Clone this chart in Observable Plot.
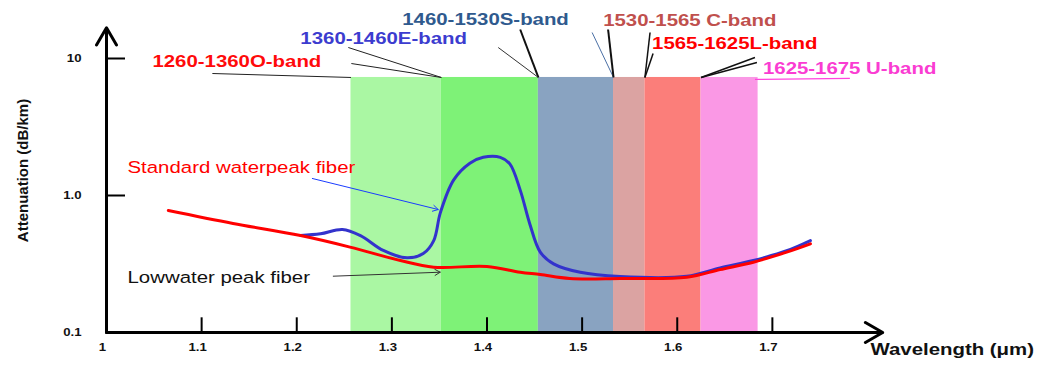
<!DOCTYPE html>
<html><head><meta charset="utf-8">
<script src="https://cdn.jsdelivr.net/npm/d3@7"></script>
<script src="https://cdn.jsdelivr.net/npm/@observablehq/plot@0.6"></script>
<style>body{margin:0;background:#fff}</style>
</head><body><div id="chart"></div>
<script>
// Low water peak fiber (red)
const lowWl  = [1.065, 1.133, 1.204, 1.256, 1.309, 1.344, 1.40, 1.435, 1.456, 1.487, 1.54, 1.61, 1.645, 1.68, 1.715, 1.74];
const lowAtt = [0.777, 0.625, 0.51, 0.42, 0.335, 0.30, 0.303, 0.275, 0.265, 0.248, 0.248, 0.253, 0.288, 0.326, 0.386, 0.444];
// Standard water peak fiber (blue)
const stdWl  = [1.204, 1.225, 1.248, 1.267, 1.291, 1.316, 1.333, 1.344, 1.351, 1.365, 1.382, 1.396, 1.414, 1.424, 1.435, 1.445, 1.456, 1.47, 1.498, 1.54, 1.61, 1.645, 1.68, 1.715, 1.74];
const stdAtt = [0.511, 0.525, 0.565, 0.51, 0.397, 0.351, 0.377, 0.469, 0.75, 1.3, 1.72, 1.9, 1.9, 1.70, 1.09, 0.62, 0.386, 0.317, 0.275, 0.256, 0.257, 0.296, 0.335, 0.395, 0.469];

// Bands
const bandNames  = ["1260-1360O-band", "1360-1460E-band", "1460-1530S-band", "1530-1565 C-band", "1565-1625L-band", "1625-1675 U-band"];
const bandStart  = [1.257, 1.352, 1.454, 1.533, 1.566, 1.625];
const bandEnd    = [1.352, 1.454, 1.533, 1.566, 1.625, 1.685];
const bandFill   = ["#aaf7a3", "#7ef277", "#89a3c1", "#dba3a2", "#fb7e7a", "#fa98e5"];
const bandTop    = 7.27;
const labelColor = ["#ff0a0a", "#3c3ccf", "#2f5a8e", "#c0504d", "#ff0000", "#fa3cd2"];
const labelX     = [1.0483, 1.2038, 1.3109, 1.5221, 1.5735, 1.6901];
const labelY     = [9.57, 14.09, 19.39, 19.07, 12.95, 8.51];

// Leader lines from labels to band edges
const leadX1 = [1.1113, 1.2574, 1.2542, 1.4349, 1.4118, 1.5105, 1.5273, 1.5714, 1.5746, 1.6817, 1.6838, 1.6817];
const leadY1 = [7.77, 9.19, 12.03, 16.28, 12.03, 15.48, 16.28, 15.48, 10.88, 10.17, 9.35, 7.03];
const leadX2 = [1.257, 1.352, 1.352, 1.454, 1.454, 1.533, 1.533, 1.566, 1.566, 1.625, 1.625, 1.7815];
const leadY2 = [7.27, 7.27, 7.27, 7.27, 7.27, 7.27, 7.27, 7.27, 7.27, 7.27, 7.27, 7.15];
const leadColor = ["#222", "#222", "#222", "#111", "#333", "#4a6fa5", "#111", "#111", "#111", "#111", "#111", "#ff44dd"];
const leadWidth = [1, 1, 1, 2, 1, 1, 2, 1.5, 1.5, 1.5, 1.5, 1.2];

// Ticks
const xTicks = [1, 1.1, 1.2, 1.3, 1.4, 1.5, 1.6, 1.7];
const xTickLabels = ["1", "1.1", "1.2", "1.3", "1.4", "1.5", "1.6", "1.7"];
const yTicks = [0.1, 1, 10];
const yTickLabels = ["0.1", "1.0", "10"];

// Annotations
const annText  = ["Standard waterpeak fiber", "Lowwater peak fiber"];
const annColor = ["#ff0000", "#111"];
const annX     = [1.0221, 1.0221];
const annY     = [1.612, 0.2537];
const arrX1 = [1.2164, 1.2384], arrY1 = [1.331, 0.2576];
const arrX2 = [1.3487, 1.3508], arrY2 = [0.79, 0.2755];
const arrColor = ["#1a3cff", "#333"];

const low = lowWl.map((x, i) => ({x, y: lowAtt[i]}));
const std = stdWl.map((x, i) => ({x, y: stdAtt[i]}));
const bands = bandNames.map((name, i) => ({name, x1: bandStart[i], x2: bandEnd[i], fill: bandFill[i], color: labelColor[i], lx: labelX[i], ly: labelY[i]}));
const leads = leadX1.map((x1, i) => ({x1, y1: leadY1[i], x2: leadX2[i], y2: leadY2[i], c: leadColor[i], w: leadWidth[i]}));
const anns = annText.map((t, i) => ({t, c: annColor[i], x: annX[i], y: annY[i], x1: arrX1[i], y1: arrY1[i], x2: arrX2[i], y2: arrY2[i], ac: arrColor[i]}));

const svg = Plot.plot({
  width: 1047, height: 365,
  marginLeft: 106, marginRight: 180, marginTop: 58, marginBottom: 33,
  style: {fontFamily: "'Liberation Sans', Arial, sans-serif", background: "#fff", overflow: "visible"},
  x: {domain: [1, 1.8], axis: null},
  y: {type: "log", domain: [0.1, 10], axis: null},
  color: {type: "identity"},
  marks: [
    Plot.rect(bands, {x1: "x1", x2: "x2", y1: 0.1, y2: bandTop, fill: "fill"}),
    Plot.line(std, {x: "x", y: "y", stroke: "#3333cc", strokeWidth: 3, curve: "catmull-rom"}),
    Plot.line(low, {x: "x", y: "y", stroke: "#ff0000", strokeWidth: 3, curve: "catmull-rom"}),
    Plot.link(leads, {x1: "x1", y1: "y1", x2: "x2", y2: "y2", stroke: "c", strokeWidth: "w"}),
    Plot.text(bands, {x: "lx", y: "ly", text: "name", fill: "color", textAnchor: "start", fontSize: 17, fontWeight: "bold"}),
    Plot.text(anns, {x: "x", y: "y", text: "t", fill: "c", textAnchor: "start", fontSize: 17}),
    Plot.arrow(anns, {x1: "x1", y1: "y1", x2: "x2", y2: "y2", stroke: "ac", strokeWidth: 1, headLength: 9}),
    // axes
    Plot.arrow([0], {x1: 1, y1: 0.1, x2: 1.816, y2: 0.1, stroke: "#000", strokeWidth: 3, headLength: 10}),
    Plot.arrow([0], {x1: 1, y1: 0.1, x2: 1, y2: 16.8, stroke: "#000", strokeWidth: 3, headLength: 10}),
    Plot.ruleX(xTicks.slice(1), {x: d => d, y1: 0.1, y2: 0.128, stroke: "#000", strokeWidth: 2}),
    Plot.ruleY(yTicks.slice(1), {y: d => d, x1: 1, x2: 1.02, stroke: "#000", strokeWidth: 2}),
    Plot.text(xTicks, {x: d => d, text: (d, i) => xTickLabels[i], frameAnchor: "bottom", dy: 18, dx: -4, fontSize: 11, fontWeight: "bold", fill: "#111"}),
    Plot.text(yTicks, {y: d => d, text: (d, i) => yTickLabels[i], frameAnchor: "left", textAnchor: "end", dx: -25, fontSize: 11, fontWeight: "bold", fill: "#111"}),
    Plot.text(["Wavelength (\u03bcm)"], {frameAnchor: "bottom-right", textAnchor: "start", dx: 3, dy: 22, fontSize: 17, fontWeight: "bold", fill: "#111"}),
    Plot.text(["Attenuation (dB/km)"], {frameAnchor: "left", textAnchor: "middle", rotate: -90, dx: -83, dy: -25, fontSize: 15, fontWeight: "bold", fill: "#111"})
  ]
});

// The reference image is stretched horizontally: widen non-rotated text around its anchor
svg.querySelectorAll("text").forEach(t => {
  const tr = t.getAttribute("transform") || "";
  if (tr.includes("rotate")) return;
  const ax = parseFloat(t.getAttribute("x")) || 0;
  const ay = parseFloat(t.getAttribute("y")) || 0;
  t.setAttribute("transform", `${tr} translate(${ax},${ay}) scale(1.2,1) translate(${-ax},${-ay})`);
});
document.getElementById("chart").appendChild(svg);
</script>
</body></html>
